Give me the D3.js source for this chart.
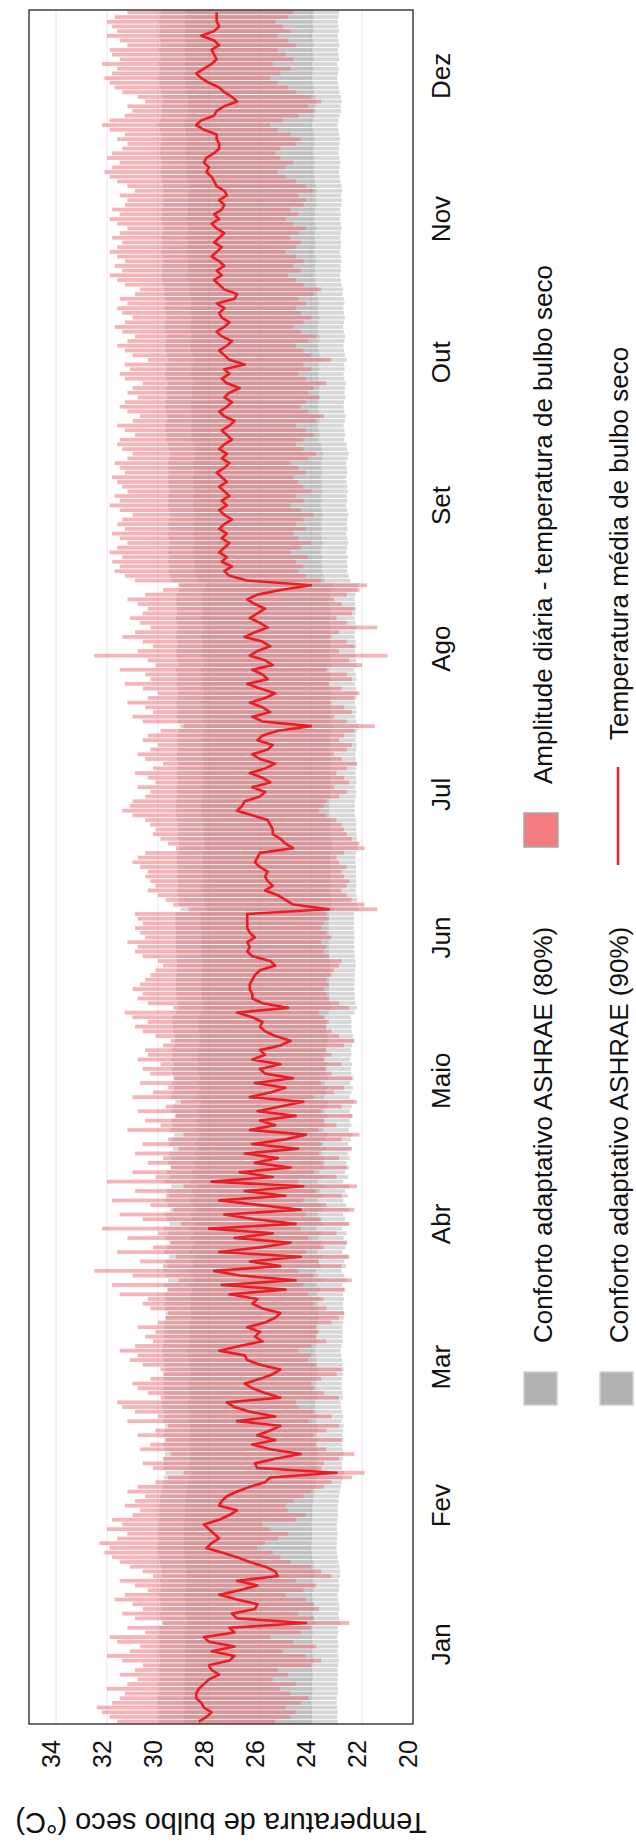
<!DOCTYPE html>
<html><head><meta charset="utf-8">
<script src="https://cdn.jsdelivr.net/npm/d3@7"></script>
<style>body{margin:0;background:#fff}</style>
</head><body>
<svg id="c" width="636" height="1842"></svg>
<script>
const months = ["Jan","Fev","Mar","Abr","Maio","Jun","Jul","Ago","Set","Out","Nov","Dez"];
const monthDays = [31,28,31,30,31,30,31,31,30,31,30,31];
const tempTicks = [20,22,24,26,28,30,32,34];

const tMean = [
28.4,28.1,27.9,28.2,28.3,28.5,28.5,28.4,28.2,28.0,
27.6,27.9,28.0,27.2,27.0,27.9,27.0,28.0,28.2,27.0,
27.2,24.2,26.9,27.1,26.2,26.1,26.9,27.6,26.8,26.1,
26.9,25.3,25.4,25.8,26.4,26.9,27.5,28.1,27.9,27.6,
27.8,28.0,28.2,27.6,27.2,26.9,27.6,27.5,27.3,26.9,
26.4,25.8,25.6,23.0,26.1,26.2,25.4,24.4,25.6,26.3,
25.4,26.1,25.6,25.2,26.9,25.4,26.4,27.0,27.3,25.2,
25.8,26.3,26.6,26.0,25.5,25.2,26.0,26.5,26.6,27.6,
26.8,25.9,26.2,26.0,26.5,25.8,25.4,25.2,25.9,26.3,
26.1,27.2,25.0,27.5,24.6,26.8,27.8,25.2,26.4,24.4,
27.6,26.0,24.8,27.0,25.5,28.0,24.6,26.2,27.4,24.4,
26.0,27.6,25.0,26.6,24.3,27.9,25.5,26.8,24.8,26.2,
25.3,26.6,24.5,26.3,25.0,24.2,26.4,25.4,26.0,24.6,
26.1,25.2,24.3,26.4,25.6,25.0,26.2,24.7,25.8,26.0,
25.2,26.3,25.8,26.0,25.2,24.8,25.4,25.8,26.0,25.9,
26.3,26.9,24.9,25.9,26.3,26.3,26.4,26.4,26.3,26.2,
26.0,25.4,25.6,26.3,26.5,26.4,26.5,26.2,26.4,26.5,
26.5,26.5,26.5,23.3,24.7,25.0,25.3,25.8,25.5,25.7,
25.8,25.7,26.0,26.2,26.1,26.0,24.7,25.0,25.2,25.5,
25.5,25.6,25.7,26.3,26.9,26.7,26.6,26.0,25.8,26.3,
25.6,25.9,26.4,25.8,25.4,26.0,26.3,25.7,25.5,26.1,
25.9,25.3,24.0,25.9,26.3,25.6,25.9,26.4,25.8,25.4,
26.0,26.5,25.7,25.9,26.3,25.5,25.8,26.4,26.1,25.6,
25.9,26.6,26.2,25.7,26.0,26.4,26.1,25.8,26.2,26.5,
26.1,25.2,24.0,26.5,27.2,27.4,27.1,27.5,27.3,27.6,
27.4,27.2,27.5,27.3,27.6,27.4,27.1,27.4,27.6,27.3,
27.5,27.2,27.4,27.6,27.3,27.5,27.7,27.4,27.2,27.5,
27.3,27.6,27.4,27.1,27.3,27.5,27.2,27.0,27.4,27.6,
27.3,27.1,27.4,27.2,26.8,27.3,27.5,27.2,27.4,26.6,
27.2,27.4,27.6,27.3,27.1,27.5,27.7,27.4,27.2,27.5,
27.6,27.4,27.7,27.0,26.9,27.4,27.6,27.8,27.5,27.7,
27.4,27.6,27.9,27.7,27.5,27.8,27.6,27.4,27.7,27.9,
27.6,27.8,27.5,27.4,27.6,27.3,27.4,27.7,27.8,27.9,
28.1,28.0,28.2,28.1,27.8,27.6,27.6,27.7,27.7,28.2,
28.5,28.3,27.8,27.7,27.4,26.9,27.1,27.4,27.6,28.0,
28.3,28.5,28.2,27.9,27.7,27.8,27.9,27.6,27.8,28.3,
27.8,27.6,27.7,27.7,27.7
];

const tMax = [
31.6,31.9,32.2,32.4,31.8,31.5,31.3,32.0,31.2,30.8,31.5,30.9,30.6,31.4,32.0,31.1,30.7,31.6,31.9,30.5,31.2,29.8,30.9,31.4,30.6,31.0,31.7,31.3,30.4,30.9,31.5,
30.2,30.6,31.1,31.5,31.8,32.1,31.9,32.3,31.6,31.2,32.0,31.4,31.8,31.0,30.7,31.3,30.9,30.5,31.2,30.8,30.1,29.6,29.0,30.2,30.6,29.8,29.5,30.7,
30.3,29.7,30.8,30.1,29.6,31.2,30.0,30.9,31.4,31.6,29.9,30.4,30.8,31.0,30.3,29.8,29.9,30.6,31.1,30.8,31.5,30.9,30.2,30.5,30.1,30.8,30.0,29.7,29.6,30.3,30.6,
30.4,31.5,29.6,31.8,29.2,31.0,32.5,29.8,30.7,29.3,31.6,30.2,29.5,31.2,30.0,32.2,29.1,30.6,31.5,29.4,30.3,31.8,29.7,30.9,29.0,32.0,30.1,31.0,29.5,30.4,
29.8,30.9,29.2,30.6,29.6,29.0,31.2,29.9,30.5,29.3,30.8,29.7,29.1,31.0,30.2,29.6,30.7,29.4,30.3,30.6,29.9,30.8,30.4,30.5,29.8,29.5,30.1,30.6,30.9,30.4,31.0,
31.3,29.4,30.4,30.8,30.6,31.0,30.7,30.5,30.3,30.1,29.8,30.0,30.6,30.9,30.8,31.2,30.5,30.7,30.9,30.6,30.8,30.9,28.8,29.4,29.7,30.0,30.4,30.1,30.3,30.5,
30.4,30.7,31.0,30.8,30.5,29.3,29.6,29.9,30.2,30.1,30.3,30.5,31.0,31.4,31.1,31.0,30.5,30.3,30.8,30.1,30.4,30.9,30.2,29.8,30.5,30.8,30.3,30.0,30.6,30.4,29.9,
29.0,30.6,31.0,30.2,30.5,31.2,30.4,30.0,30.6,31.3,30.3,30.5,31.5,30.1,30.4,32.5,30.8,30.2,30.6,31.4,30.9,30.3,30.7,31.1,30.6,30.4,30.8,31.2,30.5,29.8,29.2,
30.9,31.3,31.7,31.5,31.8,31.4,31.9,31.6,31.2,31.5,31.8,31.3,31.6,31.4,31.0,31.5,31.9,31.5,31.7,31.2,31.4,31.6,31.8,31.3,31.5,31.7,31.2,31.0,31.4,31.6,
31.5,30.9,31.3,31.6,31.0,30.7,31.2,31.5,31.3,30.8,31.2,31.0,30.6,31.3,31.5,31.1,31.3,30.4,31.0,31.3,31.6,31.2,30.9,31.4,31.7,31.3,31.0,31.4,31.6,31.2,31.5,
30.9,30.7,31.3,31.6,31.9,31.4,31.7,31.3,31.6,31.9,31.6,31.4,31.8,31.5,31.2,31.6,31.9,31.5,31.8,31.3,31.2,31.5,30.9,31.2,31.6,31.9,32.1,31.8,31.5,32.0,
31.8,31.4,31.2,31.6,31.3,31.9,32.2,31.9,31.3,31.0,31.2,30.5,30.8,31.4,31.7,31.9,32.1,31.8,31.6,32.2,31.5,31.8,31.9,31.2,31.5,32.0,31.6,31.8,32.0,31.7,31.2
];

const tMin = [
25.4,24.8,24.6,25.0,24.4,24.1,24.8,25.2,24.6,25.5,24.9,25.3,24.0,23.6,24.2,25.1,23.8,24.7,25.6,24.4,24.0,22.5,23.9,24.5,23.7,23.9,24.2,25.0,24.3,23.8,24.6,
23.2,23.6,24.0,24.8,25.2,25.5,26.1,25.8,25.3,24.9,25.6,25.9,24.6,24.2,24.9,25.0,24.7,24.3,24.0,23.5,23.2,22.4,21.9,23.6,23.5,22.9,22.3,23.4,
23.8,22.8,23.9,23.4,22.9,24.1,23.2,23.9,24.5,24.6,22.9,23.5,23.9,24.0,23.6,23.0,22.8,23.8,24.1,24.0,24.5,24.0,23.4,23.8,23.7,23.8,23.2,22.9,22.7,23.4,23.9,
23.5,24.1,22.7,24.3,22.4,23.9,24.5,22.8,23.7,22.5,24.2,23.5,22.6,24.1,23.0,24.4,22.5,23.6,24.2,22.3,23.4,24.3,22.8,23.8,22.2,24.5,23.0,23.9,22.6,23.5,
22.9,23.7,22.4,23.6,22.8,22.1,23.7,23.0,23.5,22.4,23.6,22.8,22.2,23.9,23.1,22.7,23.6,22.4,23.2,23.4,22.8,23.5,23.2,23.4,22.7,22.3,22.9,23.2,23.4,23.3,23.5,
23.7,22.5,22.9,23.3,23.4,23.5,23.3,23.4,23.2,23.1,22.9,22.8,23.3,23.5,23.4,23.6,23.2,23.4,23.6,23.5,23.3,23.4,21.4,21.9,22.4,22.6,22.8,22.6,22.5,22.7,
22.8,22.6,22.9,23.0,22.7,21.9,22.1,22.4,22.6,22.7,22.8,23.0,23.4,23.7,23.5,23.4,22.9,22.6,23.1,22.5,22.7,23.0,22.6,22.2,22.8,23.1,22.6,22.4,22.9,22.7,22.3,
21.5,22.6,23.1,22.4,22.7,23.2,22.3,22.1,22.8,23.3,22.4,22.6,23.4,22.0,22.5,21.0,22.9,22.3,22.6,23.2,22.9,21.4,22.6,23.0,22.4,22.3,22.8,23.1,22.6,22.1,21.8,
23.6,24.2,24.5,24.3,24.6,24.1,24.8,24.4,24.0,24.5,24.7,24.2,24.6,24.3,23.9,24.4,24.8,24.3,24.6,24.0,24.3,24.5,24.7,24.2,24.5,24.8,24.1,23.8,24.3,24.6,
24.3,23.9,24.2,24.6,23.8,23.5,24.1,24.4,24.2,23.7,24.1,23.9,23.4,24.2,24.5,24.0,24.3,23.2,24.0,24.3,24.6,24.1,23.8,24.4,24.7,24.3,24.0,24.4,24.6,24.2,24.5,
23.9,23.6,24.3,24.6,24.9,24.4,24.7,24.3,24.6,25.0,24.6,24.4,24.8,24.5,24.2,24.7,25.0,24.5,24.8,24.3,24.2,24.5,23.9,24.2,24.6,25.0,25.3,25.0,24.7,25.2,
25.4,25.2,24.6,24.4,24.8,25.3,25.6,25.1,24.5,23.9,24.1,23.6,24.0,24.6,24.9,25.3,25.6,25.2,24.8,25.5,24.7,25.0,25.3,24.6,24.9,25.3,24.8,25.1,25.4,24.9,24.7
];

const comfortCenter = [
26.46,26.48,26.45,26.47,26.50,26.49,26.46,26.44,26.47,26.45,26.43,26.46,26.44,26.41,26.43,26.46,26.42,26.44,26.47,26.43,26.45,26.36,26.40,26.43,26.39,26.40,26.43,26.46,26.41,26.39,26.42,
26.37,26.36,26.39,26.42,26.45,26.48,26.50,26.49,26.47,26.46,26.48,26.49,26.46,26.44,26.45,26.44,26.42,26.40,26.37,26.33,26.30,26.27,26.20,26.28,26.29,26.25,26.22,26.26,
26.29,26.24,26.27,26.25,26.22,26.30,26.24,26.28,26.32,26.34,26.25,26.27,26.29,26.30,26.27,26.24,26.22,26.26,26.29,26.31,26.35,26.30,26.26,26.28,26.26,26.27,26.24,26.21,26.20,26.24,26.25,
26.20,26.25,26.15,26.27,26.10,26.20,26.30,26.12,26.20,26.06,26.26,26.16,26.08,26.22,26.10,26.28,26.04,26.16,26.24,26.02,26.12,26.24,26.06,26.16,25.98,26.24,26.04,26.16,26.00,26.10,
25.98,26.06,25.92,26.04,25.94,25.86,26.02,25.92,25.98,25.86,25.98,25.90,25.82,25.98,25.92,25.86,25.96,25.84,25.92,25.94,25.88,25.96,25.92,25.94,25.88,25.82,25.86,25.90,25.92,25.92,25.94,
25.80,25.70,25.75,25.78,25.79,25.80,25.80,25.79,25.78,25.77,25.75,25.76,25.78,25.80,25.80,25.81,25.79,25.80,25.81,25.81,25.81,25.81,25.62,25.68,25.70,25.72,25.74,25.72,25.73,25.74,
25.74,25.73,25.75,25.76,25.74,25.66,25.68,25.70,25.72,25.72,25.73,25.74,25.78,25.80,25.79,25.78,25.75,25.73,25.76,25.72,25.74,25.76,25.73,25.70,25.74,25.76,25.73,25.71,25.75,25.74,25.70,
25.64,25.72,25.76,25.72,25.74,25.78,25.72,25.70,25.74,25.78,25.72,25.74,25.80,25.70,25.73,25.76,25.78,25.73,25.75,25.80,25.77,25.72,25.76,25.79,25.75,25.74,25.77,25.80,25.76,25.70,25.64,
25.96,26.02,26.08,26.06,26.10,26.06,26.12,26.08,26.04,26.08,26.12,26.06,26.10,26.08,26.04,26.08,26.12,26.08,26.10,26.06,26.08,26.10,26.12,26.08,26.10,26.12,26.06,26.02,26.08,26.10,
26.20,26.16,26.19,26.22,26.17,26.14,26.19,26.22,26.20,26.15,26.19,26.17,26.12,26.19,26.22,26.18,26.20,26.10,26.17,26.20,26.23,26.19,26.16,26.21,26.24,26.20,26.17,26.21,26.23,26.19,26.22,
26.26,26.24,26.30,26.33,26.36,26.32,26.34,26.31,26.33,26.37,26.34,26.32,26.36,26.33,26.30,26.34,26.37,26.33,26.36,26.31,26.30,26.33,26.28,26.31,26.34,26.37,26.40,26.38,26.35,26.39,
26.42,26.40,26.38,26.36,26.39,26.43,26.46,26.42,26.37,26.32,26.34,26.30,26.33,26.38,26.41,26.44,26.47,26.44,26.41,26.46,26.40,26.42,26.45,26.39,26.42,26.45,26.41,26.43,26.45,26.42,26.40
];
// ASHRAE 55 adaptive model acceptability half-widths (degC)
const halfWidth80 = 3.5, halfWidth90 = 2.5;

const legendItems = [
  {label:"Conforto adaptativo ASHRAE (80%)", type:"gray", col:0, row:0},
  {label:"Conforto adaptativo ASHRAE (90%)", type:"gray", col:1, row:0},
  {label:"Amplitude diária - temperatura de bulbo seco", type:"red", col:0, row:1},
  {label:"Temperatura média de bulbo seco", type:"line", col:1, row:1}
];

const FONT = "'Liberation Sans', Arial, Helvetica, sans-serif";
const svg = d3.select("#c");
const L = 29, R = 413, T = 10, B = 1724;
const nDays = tMean.length;
const days = d3.range(nDays).map(i => ({i, mean:tMean[i], max:tMax[i], min:tMin[i], c:comfortCenter[i]}));

const x = d3.scaleLinear().domain([20, 35]).range([R, R - 15*25.5]);
const y = d3.scaleBand().domain(d3.range(nDays)).range([B, T]).paddingInner(0.2).paddingOuter(0.1);
const yDay = d3.scaleLinear().domain([0, nDays]).range([B, T]);

// gridlines
svg.append("g").selectAll("line").data(tempTicks.filter(v => v > 20)).join("line")
  .attr("x1", d => x(d)).attr("x2", d => x(d)).attr("y1", T).attr("y2", B)
  .attr("stroke", "#e6e6e6").attr("stroke-width", 1);

const gBars = svg.append("g");
const GRAY = "#a0a0a0", GRAY_OP = 0.42;
gBars.selectAll("rect.c80").data(days).join("rect").attr("class","c80")
  .attr("x", d => x(d.c + halfWidth80)).attr("width", d => x(d.c - halfWidth80) - x(d.c + halfWidth80))
  .attr("y", d => y(d.i)).attr("height", y.bandwidth())
  .attr("fill", GRAY).attr("fill-opacity", GRAY_OP);
gBars.selectAll("rect.c90").data(days).join("rect").attr("class","c90")
  .attr("x", d => x(d.c + halfWidth90)).attr("width", d => x(d.c - halfWidth90) - x(d.c + halfWidth90))
  .attr("y", d => y(d.i)).attr("height", y.bandwidth())
  .attr("fill", GRAY).attr("fill-opacity", GRAY_OP);
gBars.selectAll("rect.amp").data(days).join("rect").attr("class","amp")
  .attr("x", d => x(d.max)).attr("width", d => x(d.min) - x(d.max))
  .attr("y", d => y(d.i)).attr("height", y.bandwidth())
  .attr("fill", "#ee6f76").attr("fill-opacity", 0.52);

// mean line
const line = d3.line().x(d => x(d.mean)).y(d => y(d.i) + y.bandwidth()/2);
svg.append("path").datum(days).attr("d", line)
  .attr("fill", "none").attr("stroke", "#ec1c24").attr("stroke-width", 2.6).attr("stroke-linejoin", "round");

// frame
svg.append("rect").attr("x", L).attr("y", T).attr("width", R - L).attr("height", B - T)
  .attr("fill", "none").attr("stroke", "#222").attr("stroke-width", 1.3);

// temperature tick labels (rotated)
svg.append("g").selectAll("text").data(tempTicks).join("text")
  .attr("transform", d => `translate(${x(d) + 4},1754) rotate(-90)`)
  .attr("text-anchor", "middle").attr("font-family", FONT).attr("font-size", 25).attr("fill", "#111")
  .text(d => d);

// month labels
const monthStart = d3.cumsum([0, ...monthDays]);
svg.append("g").selectAll("text").data(months).join("text")
  .attr("transform", (d, k) => `translate(450,${yDay(monthStart[k] + monthDays[k]/2) - 7}) rotate(-90)`)
  .attr("text-anchor", "middle").attr("font-family", FONT).attr("font-size", 26).attr("fill", "#111")
  .text(d => d);

// axis title (upside down)
svg.append("text").attr("transform", `translate(${(L+R)/2},1813) rotate(180)`)
  .attr("text-anchor", "middle").attr("font-family", FONT).attr("font-size", 29).attr("fill", "#111")
  .text("Temperatura de bulbo seco (°C)");

// legend
const colX = [541, 617], baseX = [552, 628];
const gL = svg.append("g");
legendItems.forEach(it => {
  const cx = colX[it.col];
  if (it.type === "gray") {
    gL.append("rect").attr("x", cx - 17).attr("y", 1372).attr("width", 33).attr("height", 33)
      .attr("fill", "#b2b2b2").attr("stroke", "#d0d0d0").attr("stroke-width", 1.5);
  } else if (it.type === "red") {
    gL.append("rect").attr("x", cx - 17).attr("y", 813).attr("width", 34).attr("height", 34)
      .attr("fill", "#f27c7f").attr("stroke", "#a8a8a8").attr("stroke-width", 1.5);
  } else {
    gL.append("line").attr("x1", cx + 1).attr("x2", cx + 1).attr("y1", 767).attr("y2", 865)
      .attr("stroke", "#ec1c24").attr("stroke-width", 2.5);
  }
  const ys = it.row === 0 ? 1343 : (it.type === "red" ? 784 : 740);
  gL.append("text").attr("transform", `translate(${baseX[it.col]},${ys}) rotate(-90)`)
    .attr("text-anchor", "start").attr("font-family", FONT).attr("font-size", 26).attr("fill", "#111")
    .text(it.label);
});
</script>
</body></html>
